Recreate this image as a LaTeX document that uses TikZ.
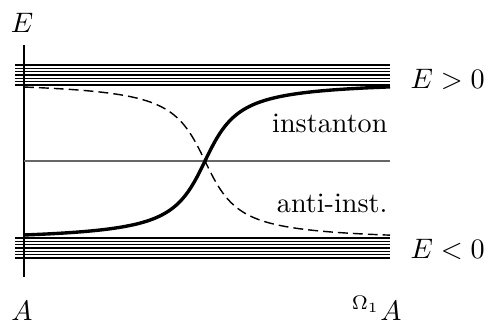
\documentclass[tikz,border=0pt]{standalone}
\usepackage{tikz}
\usetikzlibrary{positioning}

\begin{document}
\begin{tikzpicture}[x=0.355pt, y=-0.355pt,
  level/.style={line width=0.45pt},
  inst/.style={line width=1.2pt},
  anti/.style={line width=0.5pt, dash pattern=on 3.5pt off 1.8pt},
  lbl/.style={inner sep=0pt}
]
  \useasboundingbox (0,0) rectangle (486,323);

  % energy levels
  \foreach \y in {65,68.33,...,85.1} \draw[level] (15,\y) -- (390,\y);
  \foreach \y in {238,241.33,...,258.1} \draw[level] (15,\y) -- (390,\y);
  \coordinate (topR) at (390,75);
  \coordinate (botR) at (390,248);

  % axes
  \draw[level] (24,45) -- (24,277);
  \draw[level, black!60] (24,161) -- (390,161);

  % instanton and anti-instanton
  \draw[inst] plot[domain=24:390, samples=160, smooth] (\x, {161+51.6*rad(atan((205-\x)/25))});
  \draw[anti] plot[domain=24:390, samples=160, smooth] (\x, {161-51.6*rad(atan((205-\x)/25))});

  \node[lbl, anchor=base] (elabel) at (22,32) {$E$};
  \node[lbl, anchor=base west] (epos) at (410,88) {$E>0$};
  \node[lbl, anchor=base west] (eneg) at (410,258) {$E<0$};
  \node[lbl, anchor=base east] (instlbl) at (388,132) {instanton};
  \node[lbl, anchor=base east] (antilbl) at (388,212) {anti-inst.};
  \node[lbl, anchor=base] (aleft) at (22,320) {$A$};
  \node[lbl, anchor=base east] (aright) at (402,320) {$^{\Omega_1}A$};
\end{tikzpicture}
\end{document}
